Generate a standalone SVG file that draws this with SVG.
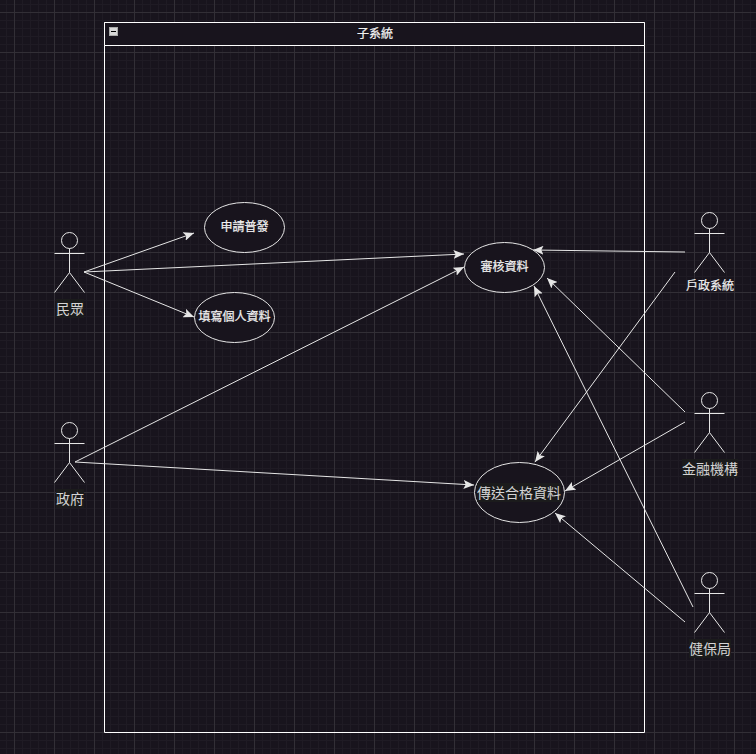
<svg xmlns="http://www.w3.org/2000/svg" width="756" height="754" viewBox="0 0 756 754">
<style>
.l{stroke:#e6e6e6;stroke-width:1;fill:none}
.c{stroke:#e6e6e6;stroke-width:1;fill:none;marker-end:url(#a)}
.e{stroke:#e6e6e6;stroke-width:1;fill:#18141d}
text{font-family:"Noto Sans CJK TC","Noto Sans CJK SC",sans-serif;text-anchor:middle;fill:#f0f0f0}
.b{font-size:12px;font-weight:400;stroke:#f0f0f0;stroke-width:.25}
.m{font-size:14px;fill:#d4d4d4}
.s{font-size:12px;font-weight:400;stroke:#f0f0f0;stroke-width:.2}
.bg{fill:#1b1b1c}
</style>
<defs>
<pattern id="g" width="40" height="40" patternUnits="userSpaceOnUse" x="14" y="12">
<path d="M8.500 0V40M16.500 0V40M24.500 0V40M32.500 0V40M0 8.500H40M0 16.500H40M0 24.500H40M0 32.500H40" stroke="#1f1b24" stroke-width="1" fill="none"/>
<path d="M0.500 0V40M0 0.500H40" stroke="#322f36" stroke-width="1" fill="none"/>
</pattern>
<marker id="a" viewBox="0 0 11 9" refX="10.500" refY="4.500" markerWidth="11" markerHeight="9" markerUnits="userSpaceOnUse" orient="auto"><path d="M0 0L10.500 4.500L0 9L2.200 4.500Z" fill="#e6e6e6"/></marker>
<g id="stick"><circle cx="0" cy="8" r="8" class="l"/><path d="M0 16V40M-15 21H15M0 40L-15 60M0 40L15 60" class="l"/></g>
</defs>
<rect width="756" height="754" fill="#18141d"/>
<rect width="756" height="754" fill="url(#g)"/>
<g id="boundary">
<path d="M104.500 22.500H644.500V732.500H104.500Z" fill="none" stroke="#fff"/>
<path d="M104.500 22.500H644.500V45.500H104.500Z" fill="#18141d" stroke="#fff"/>
<rect x="109.500" y="27.500" width="8" height="8" fill="#d8d8d8" stroke="#aaa"/>
<path d="M111 31.500H116" stroke="#000"/>
<text class="b" x="375" y="38">子系統</text>
</g>
<g id="connectors">
<path class="c" d="M84 272L194 233"/>
<path class="c" d="M84 272L464 254"/>
<path class="c" d="M84 272L194 317"/>
<path class="c" d="M75 462L464 267"/>
<path class="c" d="M75 462L474 485"/>
<path class="c" d="M685 252L533 250"/>
<path class="c" d="M675 272L535 462"/>
<path class="c" d="M685 412L547 278"/>
<path class="c" d="M685 422L565 491"/>
<path class="c" d="M693 607L534 286"/>
<path class="c" d="M685 622L555 513"/>
</g>
<g id="uc1"><ellipse class="e" cx="244.500" cy="227.500" rx="40" ry="25"/><text class="b" x="244.500" y="231">申請普發</text></g>
<g id="uc2"><ellipse class="e" cx="234.500" cy="317.500" rx="40" ry="25"/><text class="b" x="234.500" y="321">填寫個人資料</text></g>
<g id="uc3"><ellipse class="e" cx="504.500" cy="267.500" rx="40" ry="25"/><text class="b" x="504.500" y="271">審核資料</text></g>
<g id="uc4"><ellipse class="e" cx="519.500" cy="492.500" rx="45" ry="30"/><rect class="bg" x="477" y="483" width="84" height="19"/><text class="m" x="519" y="498">傳送合格資料</text></g>
<g id="actor1"><use href="#stick" x="69.500" y="232.500"/><rect class="bg" x="56" y="299" width="28" height="19"/><text class="m" x="70" y="314">民眾</text></g>
<g id="actor2"><use href="#stick" x="69.500" y="422.500"/><rect class="bg" x="56" y="489" width="28" height="19"/><text class="m" x="70" y="504">政府</text></g>
<g id="actor3"><use href="#stick" x="709.500" y="212.500"/><text class="s" x="710" y="290">戶政系統</text></g>
<g id="actor4"><use href="#stick" x="709.500" y="392.500"/><rect class="bg" x="682" y="459" width="56" height="19"/><text class="m" x="710" y="474">金融機構</text></g>
<g id="actor5"><use href="#stick" x="709.500" y="572.500"/><rect class="bg" x="689" y="639" width="42" height="19"/><text class="m" x="710" y="654">健保局</text></g>
</svg>
